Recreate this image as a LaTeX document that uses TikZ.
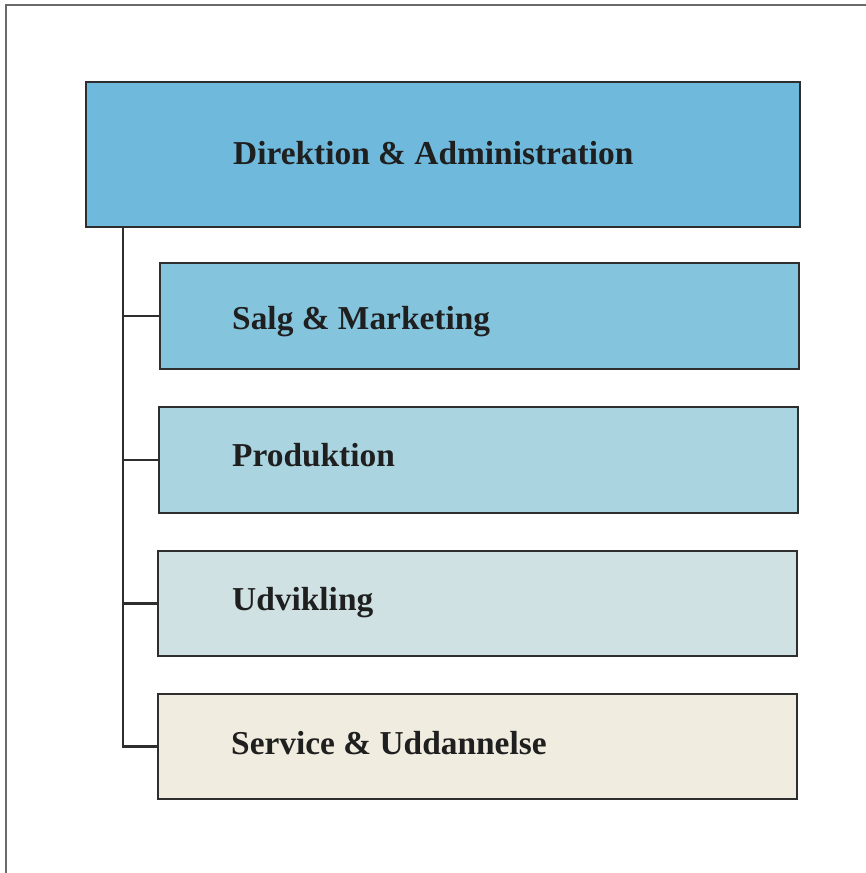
\documentclass[tikz,border=0pt]{standalone}
\usepackage{fontspec}
\setmainfont{Liberation Serif}
\definecolor{cTop}{HTML}{6EB9DC}
\definecolor{cSalg}{HTML}{84C5DD}
\definecolor{cProd}{HTML}{A9D4E0}
\definecolor{cUdv}{HTML}{CFE1E3}
\definecolor{cServ}{HTML}{F1ECE0}
\definecolor{edge}{HTML}{2E2E2E}
\definecolor{frame}{HTML}{6A6A6A}
\tikzset{
  box/.style={draw=edge, line width=1.4pt, rectangle, inner sep=0pt, outer sep=0pt, anchor=north west},
  lbl/.style={anchor=base west, inner sep=0pt, text=black!88, font=\fontsize{33.4}{39}\selectfont\bfseries},
  conn/.style={draw=edge, line width=2.9pt},
  framel/.style={draw=frame, line width=1.3pt}
}
\begin{document}
\begin{tikzpicture}[x=1pt,y=-1pt]
\useasboundingbox (0,0) rectangle (866,873);
\fill[white] (0,0) rectangle (866,873);
% outer frame (top and left)
\coordinate (fTL) at (6,5);
\coordinate (fTR) at (866,5);
\coordinate (fBL) at (6,873);
\draw[framel] (fTR) -- (fTL) -- (fBL);
% boxes
\node[box, fill=cTop,  minimum width=714pt, minimum height=145pt] (top)  at (86,82) {};
\node[box, fill=cSalg, minimum width=639pt, minimum height=106pt] (salg) at (160,263) {};
\node[box, fill=cProd, minimum width=639pt, minimum height=106pt] (prod) at (159,407) {};
\node[box, fill=cUdv,  minimum width=639pt, minimum height=105pt] (udv)  at (158,551) {};
\node[box, fill=cServ, minimum width=639pt, minimum height=105pt] (serv) at (158,694) {};
% labels
\node[lbl] (ltop)  at (233,164) {Direktion \& Administration};
\node[lbl] (lsalg) at (232,329) {Salg \& Marketing};
\node[lbl] (lprod) at (232,466) {Produktion};
\node[lbl] (ludv)  at (232,610) {Udvikling};
\node[lbl] (lserv) at (231,754) {Service \& Uddannelse};
% connectors
\coordinate (trunk) at (123,0);
\draw[conn] (trunk |- top.south) |- (serv.west);
\draw[conn] (trunk |- salg.west) -- (salg.west);
\draw[conn] (trunk |- prod.west) -- (prod.west);
\draw[conn] (trunk |- udv.west) -- (udv.west);
\end{tikzpicture}
\end{document}
